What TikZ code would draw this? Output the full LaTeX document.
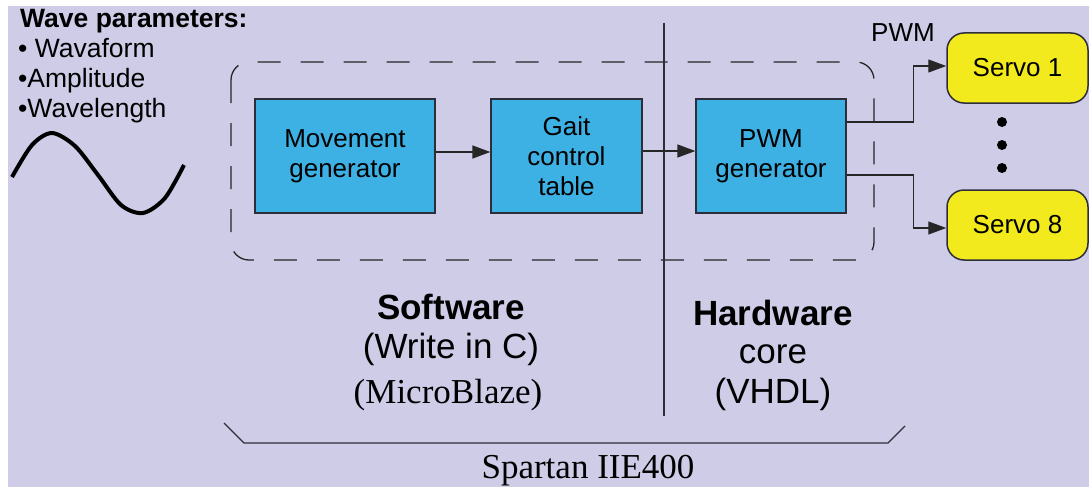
\documentclass[tikz,border=0pt]{standalone}
\usepackage{fontspec}
\setmainfont{Liberation Sans}
\newfontfamily\serifface{Liberation Serif}
\usetikzlibrary{arrows.meta}

\definecolor{bgc}{HTML}{CFCCE8}
\definecolor{blockblue}{HTML}{3EB1E4}
\definecolor{servoyellow}{HTML}{F2EA1C}
\definecolor{edge}{HTML}{2E2E3A}

\begin{document}
\begin{tikzpicture}[x=1pt,y=-1pt,
  block/.style={draw=edge, line width=1.3pt, fill=blockblue, minimum height=114pt,
    inner sep=0pt, align=center, font=\fontsize{26}{30}\selectfont},
  servo/.style={draw=edge, line width=1.5pt, fill=servoyellow, rounded corners=17pt,
    minimum width=141pt, minimum height=70pt, inner sep=0pt,
    font=\fontsize{26}{30}\selectfont},
  link/.style={draw=black!85, line width=1.3pt, -{Triangle[length=18pt,width=13pt]}},
  thinline/.style={draw=edge, line width=1.3pt},
  zone/.style={draw=black!85, line width=1.3pt, dash pattern=on 23pt off 20pt, rounded corners=18pt},
  listtext/.style={anchor=base west, inner sep=0pt, font=\fontsize{26.5}{30}\selectfont},
  captext/.style={anchor=base, inner sep=0pt, font=\fontsize{35}{40}\selectfont}
]
\useasboundingbox (0,0) rectangle (1089,487);
\fill[white] (0,0) rectangle (1089,487);
\fill[bgc] (8,6) rectangle (1089,487);

% wave parameter list
\node[listtext, font=\fontsize{26.5}{30}\selectfont\bfseries] (wp) at (20,28) {Wave parameters:};
\node[listtext] (w1) at (18,58) {• Wavaform};
\node[listtext] (w2) at (18,88) {•Amplitude};
\node[listtext] (w3) at (18,117) {•Wavelength};

% the wave
\draw[line width=4pt] plot[smooth] coordinates {(12,177) (32,145) (52,133) (75,146) (98,175) (121,205) (143,213) (165,198) (184,165)};

% software / hardware zone
\draw[zone] (231,62) rectangle (874,260);
\coordinate (divtop) at (664,23);
\coordinate (divbot) at (664,416);
\draw[thinline] (divtop) -- (divbot);

% processing blocks
\node[block, minimum width=180pt] (mg) at (345,156) {Movement\\generator};
\node[block, minimum width=151pt] (gait) at (566.5,156) {Gait\\control\\table};
\node[block, minimum width=150pt] (pwm) at (771,156) {PWM\\generator};

\draw[link] ([yshift=4pt]mg.east) -- ([yshift=4pt]gait.west);
\draw[link] ([yshift=5pt]gait.east) -- ([yshift=5pt]pwm.west);

% servos
\node[servo] (s1) at (1017.5,68) {Servo 1};
\node[servo] (s8) at (1017.5,225) {Servo 8};
\node[inner sep=0pt, font=\fontsize{26}{30}\selectfont] (pwmlabel) at (903,33) {PWM};

\draw[link] ([yshift=34pt]pwm.east) -- ++(67,0) |- ([yshift=2pt]s1.west);
\draw[link] ([yshift=-19pt]pwm.east) -- ++(67,0) |- ([yshift=-3pt]s8.west);

\fill (1002,122) circle (5pt);
\fill (1002,145) circle (5pt);
\fill (1002,168) circle (5pt);

% captions
\node[captext, font=\fontsize{35}{40}\selectfont\bfseries] (sw) at (451,319) {Software};
\node[captext] (swc) at (451,358) {(Write in C)};
\node[captext, font=\fontsize{35}{40}\selectfont\serifface] (swmb) at (448,403) {(MicroBlaze)};
\node[captext, font=\fontsize{35}{40}\selectfont\bfseries] (hw) at (773,325) {Hardware};
\node[captext] (hwc) at (773,363) {core};
\node[captext] (hwv) at (773,403) {(VHDL)};

% bracket under the chip
\coordinate (bl) at (224,423);
\coordinate (blc) at (244,443);
\coordinate (brc) at (888,443);
\coordinate (br) at (905,426);
\draw[thinline] (bl) -- (blc) -- (brc) -- (br);
\node[captext, font=\fontsize{35}{40}\selectfont\serifface] (chip) at (588,478) {Spartan IIE400};
\end{tikzpicture}
\end{document}
